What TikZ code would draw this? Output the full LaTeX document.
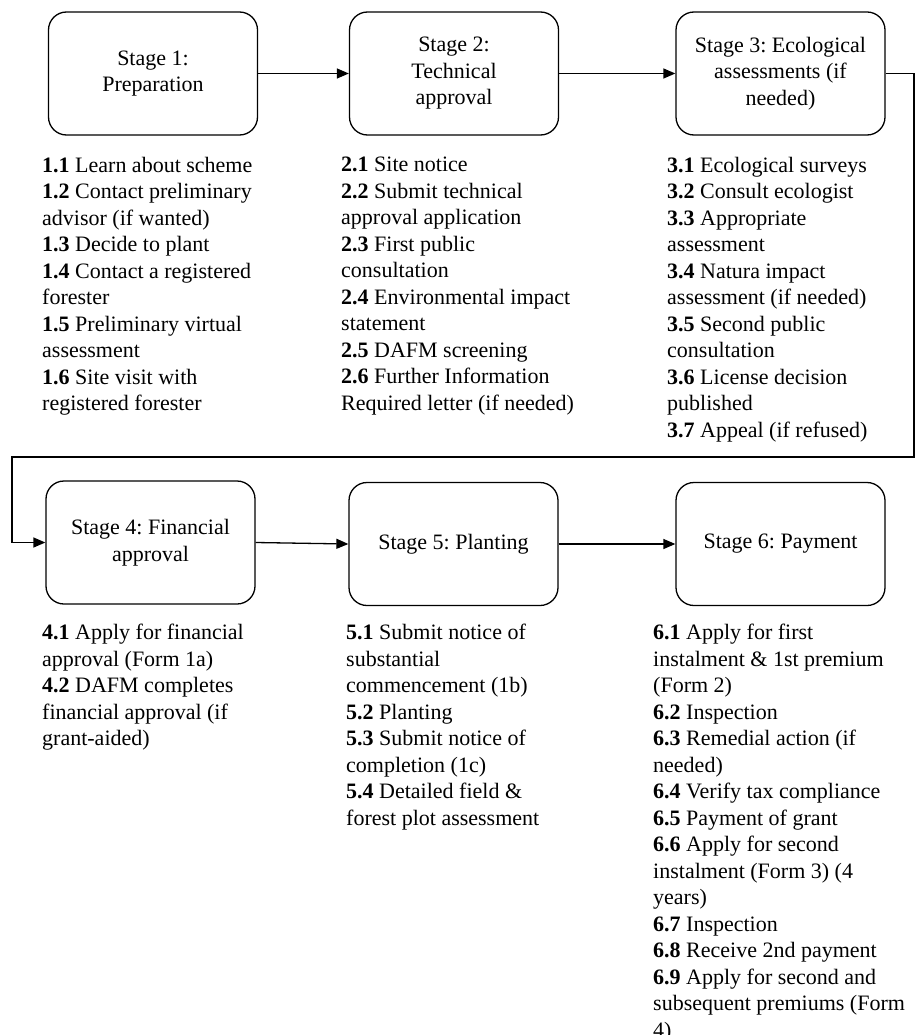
\documentclass[tikz,border=0pt]{standalone}
\usepackage{fontspec}
\setmainfont{Liberation Serif}
\usetikzlibrary{arrows.meta}
\frenchspacing
\begin{document}
\begin{tikzpicture}[x=1pt,y=-1pt,
  stagebox/.style={draw, line width=1.3pt, rounded corners=18pt, minimum width=209pt, minimum height=123pt, align=center, inner sep=0pt, font=\fontsize{22}{26.5}\selectfont},
  steplist/.style={anchor=north west, align=left, inner sep=0pt, font=\fontsize{22}{26.5}\selectfont},
  flow/.style={line width=1.3pt, -{Triangle[length=12pt,width=10pt]}}
]
\useasboundingbox (0,0) rectangle (915,1035);

\node[stagebox] (s1) at (153,73.5) {Stage 1:\\Preparation};
\node[stagebox] (s2) at (454,73.5) {Stage 2:\\Technical\\approval};
\node[stagebox] (s3) at (780.5,73.5) {Stage 3: Ecological\\assessments (if\\needed)};
\node[stagebox] (s4) at (150.5,542.5) {Stage 4: Financial\\approval};
\node[stagebox] (s5) at (453.5,544) {Stage 5: Planting};
\node[stagebox] (s6) at (780.5,544) {Stage 6: Payment};

\node[steplist] (l1) at (42,157) {\textbf{1.1} Learn about scheme\\\textbf{1.2} Contact preliminary\\advisor (if wanted)\\\textbf{1.3} Decide to plant\\\textbf{1.4} Contact a registered\\forester\\\textbf{1.5} Preliminary virtual\\assessment\\\textbf{1.6} Site visit with\\registered forester};
\node[steplist] (l2) at (341,157) {\textbf{2.1} Site notice\\\textbf{2.2} Submit technical\\approval application\\\textbf{2.3} First public\\consultation\\\textbf{2.4} Environmental impact\\statement\\\textbf{2.5} DAFM screening\\\textbf{2.6} Further Information\\Required letter (if needed)};
\node[steplist] (l3) at (667,157) {\textbf{3.1} Ecological surveys\\\textbf{3.2} Consult ecologist\\\textbf{3.3} Appropriate\\assessment\\\textbf{3.4} Natura impact\\assessment (if needed)\\\textbf{3.5} Second public\\consultation\\\textbf{3.6} License decision\\published\\\textbf{3.7} Appeal (if refused)};
\node[steplist] (l4) at (42,624) {\textbf{4.1} Apply for financial\\approval (Form 1a)\\\textbf{4.2} DAFM completes\\financial approval (if\\grant-aided)};
\node[steplist] (l5) at (346,624) {\textbf{5.1} Submit notice of\\substantial\\commencement (1b)\\\textbf{5.2} Planting\\\textbf{5.3} Submit notice of\\completion (1c)\\\textbf{5.4} Detailed field \&\\forest plot assessment};
\node[steplist] (l6) at (653,624) {\textbf{6.1} Apply for first\\instalment \& 1st premium\\(Form 2)\\\textbf{6.2} Inspection\\\textbf{6.3} Remedial action (if\\needed)\\\textbf{6.4} Verify tax compliance\\\textbf{6.5} Payment of grant\\\textbf{6.6} Apply for second\\instalment (Form 3) (4\\years)\\\textbf{6.7} Inspection\\\textbf{6.8} Receive 2nd payment\\\textbf{6.9} Apply for second and\\subsequent premiums (Form\\4)};

\coordinate (c1) at (914,73.5);
\coordinate (c2) at (914,457);
\coordinate (c3) at (12,457);
\coordinate (c4) at (12,542.5);

\draw[flow] (s1.east) -- (s2.west);
\draw[flow] (s2.east) -- (s3.west);
\draw[flow] (s3.east) -- (c1) -- (c2) -- (c3) -- (c4) -- (s4.west);
\draw[flow] (s4.east) -- (s5.west);
\draw[flow] (s5.east) -- (s6.west);
\end{tikzpicture}
\end{document}
